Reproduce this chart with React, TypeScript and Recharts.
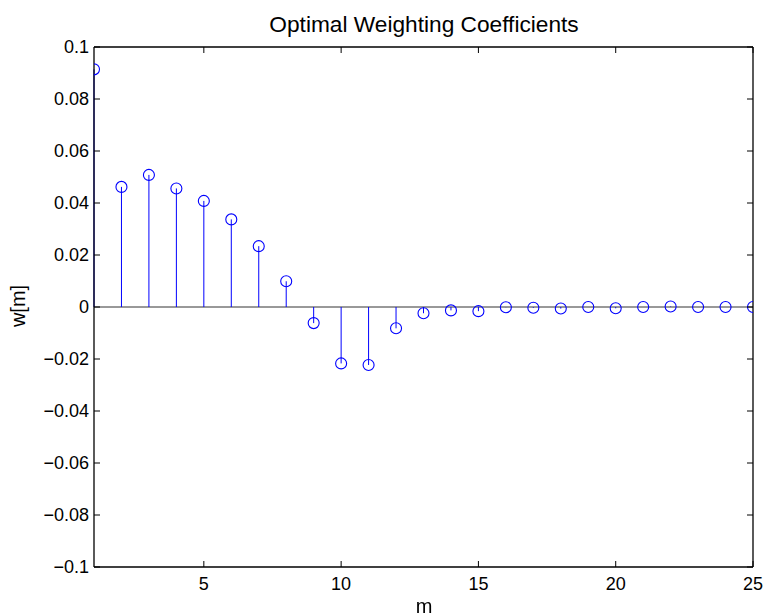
import React from 'react';
import { ComposedChart, XAxis, YAxis, Scatter, ReferenceLine } from 'recharts';

const M_VALUES = [1, 2, 3, 4, 5, 6, 7, 8, 9, 10, 11, 12, 13, 14, 15, 16, 17, 18, 19, 20, 21, 22, 23, 24, 25];
const W_VALUES = [
  0.0914, 0.0462, 0.0508, 0.0456, 0.0408, 0.0337, 0.0234, 0.0099, -0.0062, -0.0217,
  -0.0223, -0.0082, -0.0024, -0.0013, -0.0016, -0.0001, -0.0003, -0.0006, 0.0, -0.0005,
  0.0, 0.0002, 0.0, 0.0, 0.0,
];
const X_TICKS = [5, 10, 15, 20, 25];
const X_TICK_LABELS = ['5', '10', '15', '20', '25'];
const Y_TICKS = [-0.1, -0.08, -0.06, -0.04, -0.02, 0, 0.02, 0.04, 0.06, 0.08, 0.1];
const Y_TICK_LABELS = ['\u22120.1', '\u22120.08', '\u22120.06', '\u22120.04', '\u22120.02', '0', '0.02', '0.04', '0.06', '0.08', '0.1'];
const TITLE = 'Optimal Weighting Coefficients';
const X_LABEL = 'm';
const Y_LABEL = 'w[m]';

const points = M_VALUES.map((m, i) => ({ m, w: W_VALUES[i] }));

const FONT = '"Liberation Sans", Arial, Helvetica, sans-serif';
const TICK_LEN = 6;
const STEM = '#0000ff';

const xLabel = (v: number) => {
  const i = X_TICKS.indexOf(v);
  return i >= 0 ? X_TICK_LABELS[i] : String(v);
};
const yLabel = (v: number) => {
  let best = 0;
  Y_TICKS.forEach((t, i) => {
    if (Math.abs(t - v) < Math.abs(Y_TICKS[best] - v)) best = i;
  });
  return Y_TICK_LABELS[best];
};

const BottomTick = (props: any) => {
  const { x, y, payload } = props;
  return (
    <g>
      <line x1={x} y1={y} x2={x} y2={y - TICK_LEN} stroke="#000" strokeWidth={1} />
      <text x={x} y={y + 23} textAnchor="middle" fontFamily={FONT} fontSize={18} fill="#000">
        {xLabel(payload.value)}
      </text>
    </g>
  );
};
const TopTick = (props: any) => {
  const { x, y } = props;
  return <line x1={x} y1={y} x2={x} y2={y + TICK_LEN} stroke="#000" strokeWidth={1} />;
};
const LeftTick = (props: any) => {
  const { x, y, payload } = props;
  return (
    <g>
      <line x1={x} y1={y} x2={x + TICK_LEN} y2={y} stroke="#000" strokeWidth={1} />
      <text x={x - 5} y={y} dy="0.36em" textAnchor="end" fontFamily={FONT} fontSize={18} fill="#000">
        {yLabel(payload.value)}
      </text>
    </g>
  );
};
const RightTick = (props: any) => {
  const { x, y } = props;
  return <line x1={x} y1={y} x2={x - TICK_LEN} y2={y} stroke="#000" strokeWidth={1} />;
};

const Ring = (props: any) => {
  const { cx, cy } = props;
  return <circle cx={cx} cy={cy} r={5.5} fill="none" stroke={STEM} strokeWidth={1.1} />;
};

export default function App() {
  return (
    <div style={{ position: 'fixed', left: 0, top: 0, width: 766, height: 616, background: '#fff' }}>
      <ComposedChart
        width={766}
        height={616}
        margin={{ top: 46, right: 12, bottom: 0, left: 0 }}
      >
        <XAxis
          xAxisId="b"
          dataKey="m"
          type="number"
          domain={[1, 25]}
          ticks={X_TICKS}
          allowDataOverflow
          orientation="bottom"
          height={49}
          tickSize={0}
          tickMargin={0}
          tickLine={false}
          tick={<BottomTick />}
          axisLine={{ stroke: '#000', strokeWidth: 1.3 }}
          interval={0}
        />
        <XAxis
          xAxisId="t"
          dataKey="m"
          type="number"
          domain={[1, 25]}
          ticks={X_TICKS}
          allowDataOverflow
          orientation="top"
          height={1}
          tickSize={0}
          tickMargin={0}
          tickLine={false}
          tick={<TopTick />}
          axisLine={{ stroke: '#000', strokeWidth: 1.3 }}
          interval={0}
        />
        <YAxis
          yAxisId="l"
          dataKey="w"
          type="number"
          domain={[-0.1, 0.1]}
          ticks={Y_TICKS}
          allowDataOverflow
          orientation="left"
          width={94}
          tickSize={0}
          tickMargin={0}
          tickLine={false}
          tick={<LeftTick />}
          axisLine={{ stroke: '#000', strokeWidth: 1.3 }}
          interval={0}
        />
        <YAxis
          yAxisId="r"
          dataKey="w"
          type="number"
          domain={[-0.1, 0.1]}
          ticks={Y_TICKS}
          allowDataOverflow
          orientation="right"
          width={1}
          tickSize={0}
          tickMargin={0}
          tickLine={false}
          tick={<RightTick />}
          axisLine={{ stroke: '#000', strokeWidth: 1.3 }}
          interval={0}
        />
        <ReferenceLine xAxisId="b" yAxisId="l" y={0} stroke="#333" strokeWidth={1} ifOverflow="visible" />
        {points.map((p) => (
          <ReferenceLine
            key={p.m}
            xAxisId="b"
            yAxisId="l"
            segment={[{ x: p.m, y: 0 }, { x: p.m, y: p.w }]}
            stroke={STEM}
            strokeWidth={1}
            ifOverflow="visible"
          />
        ))}
        <Scatter
          xAxisId="b"
          yAxisId="l"
          data={points}
          dataKey="w"
          shape={<Ring />}
          isAnimationActive={false}
        />
      </ComposedChart>
      <div
        style={{
          position: 'absolute', left: 224, top: 13, width: 400, textAlign: 'center',
          fontFamily: FONT, fontSize: 22.7, lineHeight: '23px', color: '#000', whiteSpace: 'nowrap',
        }}
      >
        {TITLE}
      </div>
      <div
        style={{
          position: 'absolute', left: 374, top: 596, width: 100, textAlign: 'center',
          fontFamily: FONT, fontSize: 20, lineHeight: '20px', color: '#000',
        }}
      >
        {X_LABEL}
      </div>
      <div
        style={{
          position: 'absolute', left: 18, top: 306, transform: 'translate(-50%, -50%) rotate(-90deg)',
          fontFamily: FONT, fontSize: 20, lineHeight: '20px', color: '#000', whiteSpace: 'nowrap',
        }}
      >
        {Y_LABEL}
      </div>
    </div>
  );
}
